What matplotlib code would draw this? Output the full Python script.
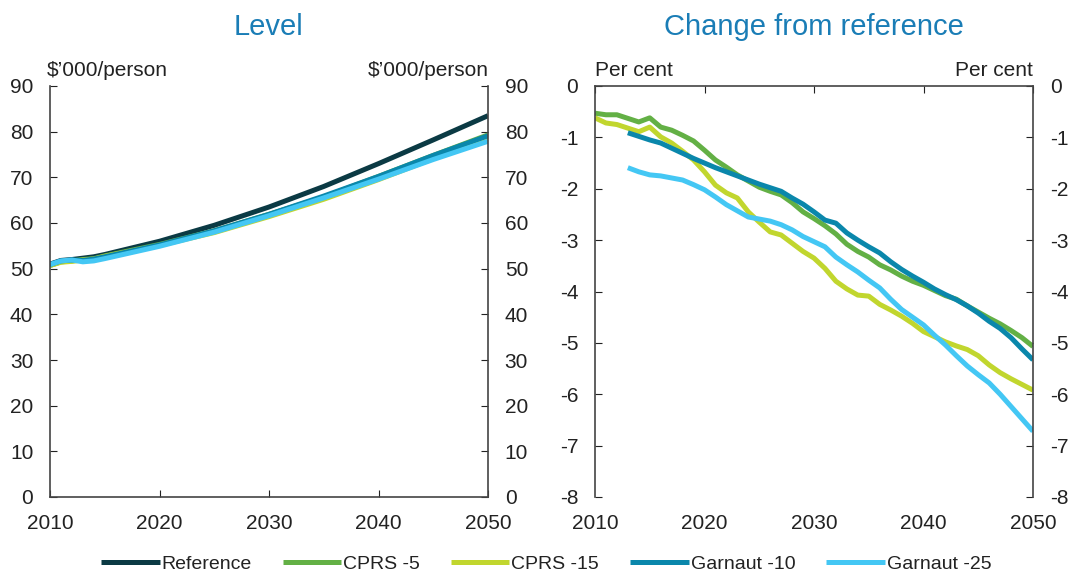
import matplotlib
matplotlib.use("Agg")
import matplotlib.pyplot as plt

plt.rcParams["font.family"] = ["Liberation Sans", "DejaVu Sans"]
plt.rcParams["axes.unicode_minus"] = False

# Level, $'000 per person
lvl_years = [2010, 2011, 2012, 2013, 2014, 2015, 2020, 2025, 2030, 2035, 2040, 2045, 2050]
lvl_ref = [51.0, 51.8, 52.0, 52.3, 52.6, 53.1, 56.0, 59.5, 63.5, 68.0, 73.0, 78.2, 83.5]
lvl_cprs5 = [50.7, 51.5, 51.7, 52.0, 52.2, 52.8, 55.3, 58.3, 61.9, 65.7, 70.2, 74.8, 79.3]
lvl_cprs15 = [50.7, 51.4, 51.6, 51.9, 52.1, 52.7, 55.1, 57.9, 61.4, 65.2, 69.5, 74.1, 78.6]
lvl_garn10 = [50.9, 51.7, 51.9, 51.8, 52.1, 52.6, 55.2, 58.3, 61.9, 65.9, 70.2, 74.8, 79.1]
lvl_garn25 = [50.9, 51.7, 51.9, 51.5, 51.7, 52.2, 54.9, 58.0, 61.6, 65.5, 69.6, 73.9, 77.9]

# change from reference, per cent
cprs_years = list(range(2010, 2051))
chg_cprs5 = [-0.53, -0.56, -0.56, -0.63, -0.70, -0.62, -0.80, -0.86, -0.96, -1.07,
             -1.25, -1.44, -1.58, -1.73, -1.85, -1.97, -2.05, -2.12, -2.27, -2.45,
             -2.58, -2.72, -2.88, -3.08, -3.22, -3.33, -3.48, -3.58, -3.70, -3.80,
             -3.88, -3.98, -4.08, -4.15, -4.28, -4.40, -4.52, -4.63, -4.76, -4.90, -5.07]
chg_cprs15 = [-0.62, -0.72, -0.75, -0.82, -0.89, -0.80, -0.99, -1.11, -1.27, -1.44,
              -1.67, -1.93, -2.08, -2.18, -2.45, -2.65, -2.84, -2.90, -3.06, -3.22,
              -3.35, -3.55, -3.80, -3.95, -4.07, -4.09, -4.25, -4.36, -4.48, -4.62,
              -4.78, -4.88, -4.98, -5.06, -5.13, -5.25, -5.43, -5.58, -5.70, -5.81, -5.92]
garn_years = list(range(2013, 2051))
chg_garn10 = [-0.91, -0.98, -1.05, -1.11, -1.21, -1.31, -1.41, -1.50, -1.59, -1.67,
              -1.75, -1.83, -1.91, -1.98, -2.05, -2.18, -2.30, -2.45, -2.61, -2.67,
              -2.86, -3.00, -3.13, -3.25, -3.42, -3.57, -3.70, -3.82, -3.95, -4.06,
              -4.16, -4.28, -4.42, -4.58, -4.72, -4.90, -5.12, -5.33]
chg_garn25 = [-1.59, -1.67, -1.73, -1.75, -1.79, -1.83, -1.92, -2.02, -2.16, -2.31,
              -2.43, -2.55, -2.59, -2.63, -2.70, -2.80, -2.93, -3.03, -3.13, -3.33,
              -3.48, -3.62, -3.78, -3.93, -4.15, -4.35, -4.50, -4.65, -4.85, -5.04,
              -5.25, -5.45, -5.62, -5.78, -6.00, -6.24, -6.48, -6.72]

names = ["Reference", "CPRS -5", "CPRS -15", "Garnaut -10", "Garnaut -25"]
colors = ["#0b3a44", "#63b045", "#c1d62e", "#0a87ab", "#44c7f4"]
lw = 3.6
txt = "#222222"
title_col = "#1a7db6"

fig = plt.figure(figsize=(10.71, 5.73), dpi=100)
axL = fig.add_axes([50 / 1071, 76 / 573, 438 / 1071, 411 / 573])
axR = fig.add_axes([595 / 1071, 76 / 573, 438 / 1071, 411 / 573])

# left panel
l0, = axL.plot(lvl_years, lvl_ref, color=colors[0], lw=lw, solid_capstyle="butt")
l1, = axL.plot(lvl_years, lvl_cprs5, color=colors[1], lw=lw, solid_capstyle="butt")
l2, = axL.plot(lvl_years, lvl_cprs15, color=colors[2], lw=lw, solid_capstyle="butt")
l3, = axL.plot(lvl_years, lvl_garn10, color=colors[3], lw=lw, solid_capstyle="butt")
l4, = axL.plot(lvl_years, lvl_garn25, color=colors[4], lw=lw, solid_capstyle="butt")
axL.set_xlim(2010, 2050)
axL.set_ylim(0, 90)
axL.set_xticks(range(2010, 2051, 10))
axL.set_yticks(range(0, 91, 10))
axL.spines["top"].set_visible(False)
axL.tick_params(direction="in", length=5, labelsize=15, colors=txt,
                left=True, right=True, labelleft=True, labelright=True,
                bottom=True, top=False)
axL.tick_params(axis="x", pad=12)
axL.tick_params(axis="y", pad=12)

# right panel
axR.plot(cprs_years, chg_cprs5, color=colors[1], lw=lw, solid_capstyle="butt")
axR.plot(cprs_years, chg_cprs15, color=colors[2], lw=lw, solid_capstyle="butt")
axR.plot(garn_years, chg_garn10, color=colors[3], lw=lw, solid_capstyle="butt")
axR.plot(garn_years, chg_garn25, color=colors[4], lw=lw, solid_capstyle="butt")
axR.set_xlim(2010, 2050)
axR.set_ylim(-8, 0)
axR.set_xticks(range(2010, 2051, 10))
axR.set_yticks(range(-8, 1))
axR.spines["bottom"].set_visible(False)
axR.tick_params(direction="in", length=5, labelsize=15, colors=txt,
                left=True, right=True, labelleft=True, labelright=True,
                bottom=False, top=True, labelbottom=True, labeltop=False)
axR.tick_params(axis="x", pad=12)
axR.tick_params(axis="y", pad=12)

for ax in (axL, axR):
    for s in ("left", "right", "top", "bottom"):
        ax.spines[s].set_color("#444444")
        ax.spines[s].set_linewidth(1.2)

# unit labels
fig.text(47 / 1071, 1 - 71 / 573, "$\u2019000/person", fontsize=15, color=txt, ha="left", va="center")
fig.text(489 / 1071, 1 - 71 / 573, "$\u2019000/person", fontsize=15, color=txt, ha="right", va="center")
fig.text(595 / 1071, 1 - 71 / 573, "Per cent", fontsize=15, color=txt, ha="left", va="center")
fig.text(1033 / 1071, 1 - 71 / 573, "Per cent", fontsize=15, color=txt, ha="right", va="center")

# titles
fig.text(269 / 1071, 1 - 27 / 573, "Level", fontsize=21, color=title_col, ha="center", va="center")
fig.text(814 / 1071, 1 - 27 / 573, "Change from reference", fontsize=21, color=title_col,
         ha="center", va="center")

fig.legend([l0, l1, l2, l3, l4], names, loc="center", bbox_to_anchor=(0.51, 1 - 564 / 573),
           ncol=5, frameon=False, fontsize=14, handlelength=3.0, columnspacing=1.6,
           handletextpad=0.1, labelcolor=txt)

fig.savefig("out.png", dpi=100)
